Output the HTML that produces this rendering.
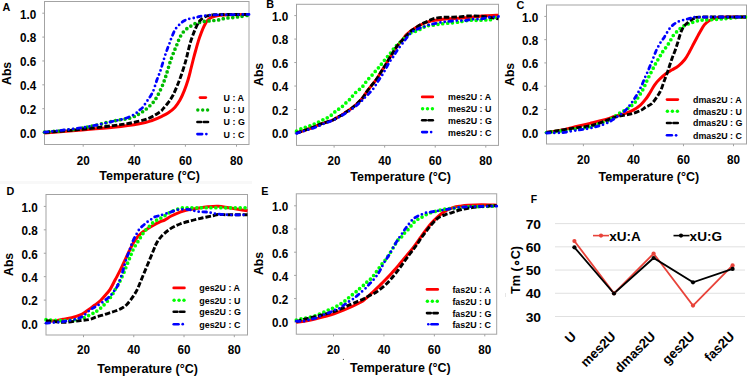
<!DOCTYPE html><html><head><meta charset="utf-8"><title>Melting curves</title>
<style>html,body{margin:0;padding:0;background:#fff;}svg{display:block;font-family:"Liberation Sans", sans-serif;}</style>
</head><body>
<svg width="749" height="379" viewBox="0 0 749 379">
<rect width="749" height="379" fill="#fff"/>
<rect x="0" y="181" width="252" height="3" fill="#f8f8f8"/>
<rect x="44.5" y="1.5" width="204.5" height="143" fill="none" stroke="#a3a3a3" stroke-width="1"/>
<line x1="83.2" y1="144.5" x2="83.2" y2="146.7" stroke="#a3a3a3" stroke-width="1"/>
<text transform="translate(83.2,164.9) scale(1,1.08)" font-size="11.7" font-weight="bold" text-anchor="middle" fill="#000" >20</text>
<line x1="134.3" y1="144.5" x2="134.3" y2="146.7" stroke="#a3a3a3" stroke-width="1"/>
<text transform="translate(134.3,164.9) scale(1,1.08)" font-size="11.7" font-weight="bold" text-anchor="middle" fill="#000" >40</text>
<line x1="185.4" y1="144.5" x2="185.4" y2="146.7" stroke="#a3a3a3" stroke-width="1"/>
<text transform="translate(185.4,164.9) scale(1,1.08)" font-size="11.7" font-weight="bold" text-anchor="middle" fill="#000" >60</text>
<line x1="236.5" y1="144.5" x2="236.5" y2="146.7" stroke="#a3a3a3" stroke-width="1"/>
<text transform="translate(236.5,164.9) scale(1,1.08)" font-size="11.7" font-weight="bold" text-anchor="middle" fill="#000" >80</text>
<line x1="42.3" y1="132.6" x2="44.5" y2="132.6" stroke="#a3a3a3" stroke-width="1"/>
<text transform="translate(36.2,137.9) scale(1,1.08)" font-size="11.7" font-weight="bold" text-anchor="end" fill="#000" >0.0</text>
<line x1="42.3" y1="108.72" x2="44.5" y2="108.72" stroke="#a3a3a3" stroke-width="1"/>
<text transform="translate(36.2,114.02) scale(1,1.08)" font-size="11.7" font-weight="bold" text-anchor="end" fill="#000" >0.2</text>
<line x1="42.3" y1="84.84" x2="44.5" y2="84.84" stroke="#a3a3a3" stroke-width="1"/>
<text transform="translate(36.2,90.14) scale(1,1.08)" font-size="11.7" font-weight="bold" text-anchor="end" fill="#000" >0.4</text>
<line x1="42.3" y1="60.96" x2="44.5" y2="60.96" stroke="#a3a3a3" stroke-width="1"/>
<text transform="translate(36.2,66.26) scale(1,1.08)" font-size="11.7" font-weight="bold" text-anchor="end" fill="#000" >0.6</text>
<line x1="42.3" y1="37.08" x2="44.5" y2="37.08" stroke="#a3a3a3" stroke-width="1"/>
<text transform="translate(36.2,42.38) scale(1,1.08)" font-size="11.7" font-weight="bold" text-anchor="end" fill="#000" >0.8</text>
<line x1="42.3" y1="13.2" x2="44.5" y2="13.2" stroke="#a3a3a3" stroke-width="1"/>
<text transform="translate(36.2,18.5) scale(1,1.08)" font-size="11.7" font-weight="bold" text-anchor="end" fill="#000" >1.0</text>
<text transform="translate(99.3,179.6) scale(1,1.08)" font-size="12.5" font-weight="bold" text-anchor="start" fill="#000" >Temperature (&#176;C)</text>
<text transform="translate(10.9,73.4) rotate(-90) scale(1,1.08)" font-size="12.2" font-weight="bold" text-anchor="middle" fill="#000">Abs</text>
<text transform="translate(2.6,10.6) scale(1.04,1)" font-size="10.4" font-weight="bold" text-anchor="start" fill="#000" >A</text>
<g>
<path d="M44.5,133C50.2,132.55 67.22,131.25 78.7,130.3C90.18,129.35 103.27,128.38 113.4,127.3C123.53,126.22 133.07,124.93 139.5,123.8C145.93,122.67 148.23,121.77 152,120.5C155.77,119.23 159.37,117.5 162.1,116.2C164.83,114.9 166.28,114.17 168.4,112.7C170.52,111.23 172.87,109.52 174.8,107.4C176.73,105.28 178.42,102.8 180,100C181.58,97.2 182.97,93.93 184.3,90.6C185.63,87.27 186.88,83.68 188,80C189.12,76.32 190.08,72.08 191,68.5C191.92,64.92 192.7,61.58 193.5,58.5C194.3,55.42 194.97,52.98 195.8,50C196.63,47.02 197.62,43.4 198.5,40.6C199.38,37.8 200.23,35.48 201.1,33.2C201.97,30.92 202.82,28.8 203.7,26.9C204.58,25 205.42,23.2 206.4,21.8C207.38,20.4 208.37,19.38 209.6,18.5C210.83,17.62 212.07,17.05 213.8,16.5C215.53,15.95 216.97,15.5 220,15.2C223.03,14.9 227.17,14.82 232,14.7C236.83,14.58 246.17,14.53 249,14.5" stroke="#ff0000" stroke-width="3.0" fill="none" stroke-linejoin="round"/>
<path d="M44.5,132.2C50.2,131.63 67.22,130.67 78.7,128.8C90.18,126.93 104.72,122.83 113.4,121C122.08,119.17 126.17,119.2 130.8,117.8C135.43,116.4 138.32,114.33 141.2,112.6C144.08,110.87 145.8,109.5 148.1,107.4C150.4,105.3 152.92,102.97 155,100C157.08,97.03 159.02,92.92 160.6,89.6C162.18,86.28 163.37,83.2 164.5,80.1C165.63,77 166.43,74.1 167.4,71C168.37,67.9 169.23,64.67 170.3,61.5C171.37,58.33 172.85,54.43 173.8,52C174.75,49.57 175.35,48.48 176,46.9C176.65,45.32 177.1,43.98 177.7,42.5C178.3,41.02 178.83,39.55 179.6,38C180.37,36.45 181.23,34.63 182.3,33.2C183.37,31.77 184.72,30.5 186,29.4C187.28,28.3 188.63,27.5 190,26.6C191.37,25.7 192.78,24.65 194.2,24C195.62,23.35 197,23.1 198.5,22.7C200,22.3 201.62,21.88 203.2,21.6C204.78,21.32 206.42,21.17 208,21C209.58,20.83 211.12,20.73 212.7,20.6C214.28,20.47 215.95,20.47 217.5,20.2C219.05,19.93 220.5,19.35 222,19C223.5,18.65 225,18.3 226.5,18.1C228,17.9 229.47,17.95 231,17.8C232.53,17.65 234.13,17.4 235.7,17.2C237.27,17 238.18,16.93 240.4,16.6C242.62,16.27 247.57,15.43 249,15.2" stroke="#00bb00" stroke-width="3.7" fill="none" stroke-linecap="round" stroke-dasharray="0 4.8"/>
<path d="M44.5,132.5C50.2,132.02 67.22,130.75 78.7,129.6C90.18,128.45 104.72,126.7 113.4,125.6C122.08,124.5 125.02,124.17 130.8,123C136.58,121.83 143.23,120.45 148.1,118.6C152.97,116.75 157.48,113.57 160,111.9C162.52,110.23 161.8,110.18 163.2,108.6C164.6,107.02 166.82,104.53 168.4,102.4C169.98,100.27 171.28,98.45 172.7,95.8C174.12,93.15 175.58,89.63 176.9,86.5C178.22,83.37 179.37,80.45 180.6,77C181.83,73.55 183.32,68.97 184.3,65.8C185.28,62.63 185.83,60.55 186.5,58C187.17,55.45 187.62,53.22 188.3,50.5C188.98,47.78 189.78,44.4 190.6,41.7C191.42,39 192.33,36.6 193.2,34.3C194.07,32 194.92,29.83 195.8,27.9C196.68,25.97 197.62,24.1 198.5,22.7C199.38,21.3 200.23,20.38 201.1,19.5C201.97,18.62 202.65,18.02 203.7,17.4C204.75,16.78 205.85,16.22 207.4,15.8C208.95,15.38 210.9,15.1 213,14.9C215.1,14.7 214,14.68 220,14.6C226,14.52 244.17,14.43 249,14.4" stroke="#000000" stroke-width="2.9" fill="none" stroke-dasharray="5.5 2"/>
<path d="M44.5,132.2C47.32,131.88 55.7,130.97 61.4,130.3C67.1,129.63 72.92,129.05 78.7,128.2C84.48,127.35 90.32,126.37 96.1,125.2C101.88,124.03 108.75,122.27 113.4,121.2C118.05,120.13 120.53,119.92 124,118.8C127.47,117.68 131.62,115.97 134.2,114.5C136.78,113.03 138.13,111.12 139.5,110C140.87,108.88 141.27,109.1 142.4,107.8C143.53,106.5 145.05,104.02 146.3,102.2C147.55,100.38 148.73,98.78 149.9,96.9C151.07,95.02 152.13,93.72 153.3,90.9C154.47,88.08 155.77,83.2 156.9,80C158.03,76.8 159.13,74.5 160.1,71.7C161.07,68.9 161.83,66.02 162.7,63.2C163.57,60.38 164.42,57.47 165.3,54.8C166.18,52.13 167.25,49.23 168,47.2C168.75,45.17 169.18,44.27 169.8,42.6C170.42,40.93 170.93,39.13 171.7,37.2C172.47,35.27 173.52,32.68 174.4,31C175.28,29.32 176.03,28.28 177,27.1C177.97,25.92 179.15,24.87 180.2,23.9C181.25,22.93 182.08,22.07 183.3,21.3C184.52,20.53 186.12,19.78 187.5,19.3C188.88,18.82 190.22,18.68 191.6,18.4C192.98,18.12 194.65,17.88 195.8,17.6C196.95,17.32 197.43,16.98 198.5,16.7C199.57,16.42 200.35,16.15 202.2,15.9C204.05,15.65 206.97,15.38 209.6,15.2C212.23,15.02 213.77,14.9 218,14.8C222.23,14.7 229.83,14.67 235,14.6C240.17,14.53 246.67,14.43 249,14.4" stroke="#0000ff" stroke-width="2.8" fill="none" stroke-linecap="round" stroke-dasharray="3.6 4.2 0 4.5 0 4.2"/>
</g>
<line x1="200" y1="97.6" x2="205.8" y2="97.6" stroke="#ff0000" stroke-width="2.7" stroke-linecap="round"/>
<circle cx="197.8" cy="110" r="1.7" fill="#00bb00"/>
<circle cx="202.7" cy="110" r="1.7" fill="#00bb00"/>
<circle cx="207.6" cy="110" r="1.7" fill="#00bb00"/>
<line x1="197.4" y1="122" x2="201.1" y2="122" stroke="#000" stroke-width="2.6" stroke-linecap="round"/>
<line x1="203.7" y1="122" x2="208" y2="122" stroke="#000" stroke-width="2.6" stroke-linecap="round"/>
<line x1="197.4" y1="134.1" x2="202.18" y2="134.1" stroke="#0000ff" stroke-width="2.6" stroke-linecap="round"/>
<circle cx="206.34" cy="134.1" r="1.35" fill="#0000ff"/>
<text transform="translate(223.6,101) scale(1,1.12)" font-size="8.9" font-weight="bold" text-anchor="start" fill="#000" >U : A</text>
<text transform="translate(223.6,113.4) scale(1,1.12)" font-size="8.9" font-weight="bold" text-anchor="start" fill="#000" >U : U</text>
<text transform="translate(223.6,125.4) scale(1,1.12)" font-size="8.9" font-weight="bold" text-anchor="start" fill="#000" >U : G</text>
<text transform="translate(223.6,137.5) scale(1,1.12)" font-size="8.9" font-weight="bold" text-anchor="start" fill="#000" >U : C</text>
<rect x="296.5" y="4.3" width="202" height="141.1" fill="none" stroke="#a3a3a3" stroke-width="1"/>
<line x1="334.1" y1="145.4" x2="334.1" y2="147.6" stroke="#a3a3a3" stroke-width="1"/>
<text transform="translate(334.1,165) scale(1,1.08)" font-size="11.7" font-weight="bold" text-anchor="middle" fill="#000" >20</text>
<line x1="384.67" y1="145.4" x2="384.67" y2="147.6" stroke="#a3a3a3" stroke-width="1"/>
<text transform="translate(384.67,165) scale(1,1.08)" font-size="11.7" font-weight="bold" text-anchor="middle" fill="#000" >40</text>
<line x1="435.23" y1="145.4" x2="435.23" y2="147.6" stroke="#a3a3a3" stroke-width="1"/>
<text transform="translate(435.23,165) scale(1,1.08)" font-size="11.7" font-weight="bold" text-anchor="middle" fill="#000" >60</text>
<line x1="485.8" y1="145.4" x2="485.8" y2="147.6" stroke="#a3a3a3" stroke-width="1"/>
<text transform="translate(485.8,165) scale(1,1.08)" font-size="11.7" font-weight="bold" text-anchor="middle" fill="#000" >80</text>
<line x1="294.3" y1="133" x2="296.5" y2="133" stroke="#a3a3a3" stroke-width="1"/>
<text transform="translate(288.2,138.3) scale(1,1.08)" font-size="11.7" font-weight="bold" text-anchor="end" fill="#000" >0.0</text>
<line x1="294.3" y1="109.52" x2="296.5" y2="109.52" stroke="#a3a3a3" stroke-width="1"/>
<text transform="translate(288.2,114.82) scale(1,1.08)" font-size="11.7" font-weight="bold" text-anchor="end" fill="#000" >0.2</text>
<line x1="294.3" y1="86.04" x2="296.5" y2="86.04" stroke="#a3a3a3" stroke-width="1"/>
<text transform="translate(288.2,91.34) scale(1,1.08)" font-size="11.7" font-weight="bold" text-anchor="end" fill="#000" >0.4</text>
<line x1="294.3" y1="62.56" x2="296.5" y2="62.56" stroke="#a3a3a3" stroke-width="1"/>
<text transform="translate(288.2,67.86) scale(1,1.08)" font-size="11.7" font-weight="bold" text-anchor="end" fill="#000" >0.6</text>
<line x1="294.3" y1="39.08" x2="296.5" y2="39.08" stroke="#a3a3a3" stroke-width="1"/>
<text transform="translate(288.2,44.38) scale(1,1.08)" font-size="11.7" font-weight="bold" text-anchor="end" fill="#000" >0.8</text>
<line x1="294.3" y1="15.6" x2="296.5" y2="15.6" stroke="#a3a3a3" stroke-width="1"/>
<text transform="translate(288.2,20.9) scale(1,1.08)" font-size="11.7" font-weight="bold" text-anchor="end" fill="#000" >1.0</text>
<text transform="translate(350.3,180.8) scale(1,1.08)" font-size="12.5" font-weight="bold" text-anchor="start" fill="#000" >Temperature (&#176;C)</text>
<text transform="translate(263.3,74.4) rotate(-90) scale(1,1.08)" font-size="12.2" font-weight="bold" text-anchor="middle" fill="#000">Abs</text>
<text transform="translate(266.3,8.2) scale(1.04,1)" font-size="10.4" font-weight="bold" text-anchor="start" fill="#000" >B</text>
<g>
<path d="M296.5,133C298,132.5 302.42,131.08 305.5,130C308.58,128.92 312.62,127.43 315,126.5C317.38,125.57 318.22,125.02 319.8,124.4C321.38,123.78 322.92,123.3 324.5,122.8C326.08,122.3 327.72,121.95 329.3,121.4C330.88,120.85 332.55,120.23 334,119.5C335.45,118.77 336.68,117.75 338,117C339.32,116.25 340.73,115.7 341.9,115C343.07,114.3 343.6,113.75 345,112.8C346.4,111.85 348.53,110.6 350.3,109.3C352.07,108 353.85,106.55 355.6,105C357.35,103.45 359.4,101.5 360.8,100C362.2,98.5 362.92,97.5 364,96C365.08,94.5 365.87,92.97 367.3,91C368.73,89.03 371.02,86.22 372.6,84.2C374.18,82.18 375.4,80.93 376.8,78.9C378.2,76.87 379.6,74.23 381,72C382.4,69.77 383.72,67.92 385.2,65.5C386.68,63.08 388.5,59.83 389.9,57.5C391.3,55.17 392.28,53.55 393.6,51.5C394.92,49.45 396.38,47.07 397.8,45.2C399.22,43.33 400.77,41.95 402.1,40.3C403.43,38.65 404.52,36.72 405.8,35.3C407.08,33.88 408.35,32.92 409.8,31.8C411.25,30.68 412.92,29.63 414.5,28.6C416.08,27.57 417.58,26.55 419.3,25.6C421.02,24.65 422.97,23.63 424.8,22.9C426.63,22.17 428.6,21.63 430.3,21.2C432,20.77 432.13,20.72 435,20.3C437.87,19.88 443.43,19.05 447.5,18.7C451.57,18.35 455.32,18.45 459.4,18.2C463.48,17.95 467.63,17.6 472,17.2C476.37,16.8 481.18,16.13 485.6,15.8C490.02,15.47 496.35,15.3 498.5,15.2" stroke="#ff0000" stroke-width="3.0" fill="none" stroke-linejoin="round"/>
<path d="M296.5,131.2C297.47,130.72 300.53,129.05 302.3,128.3C304.07,127.55 305.52,127.23 307.1,126.7C308.68,126.17 310.42,125.65 311.8,125.1C313.18,124.55 314.07,124.02 315.4,123.4C316.73,122.78 318.28,122.13 319.8,121.4C321.32,120.67 322.98,119.73 324.5,119C326.02,118.27 327.45,117.92 328.9,117C330.35,116.08 331.92,114.62 333.2,113.5C334.48,112.38 335.35,111.22 336.6,110.3C337.85,109.38 339.48,108.92 340.7,108C341.92,107.08 342.75,105.9 343.9,104.8C345.05,103.7 346.4,102.53 347.6,101.4C348.8,100.27 350.03,99.23 351.1,98C352.17,96.77 352.8,95.27 354,94C355.2,92.73 356.88,91.63 358.3,90.4C359.72,89.17 361.27,87.95 362.5,86.6C363.73,85.25 364.63,83.67 365.7,82.3C366.77,80.93 367.85,79.58 368.9,78.4C369.95,77.22 370.95,76.35 372,75.2C373.05,74.05 374.05,72.82 375.2,71.5C376.35,70.18 377.72,68.72 378.9,67.3C380.08,65.88 381.08,64.55 382.3,63C383.52,61.45 385.02,59.42 386.2,58C387.38,56.58 388.33,55.82 389.4,54.5C390.47,53.18 391.55,51.45 392.6,50.1C393.65,48.75 394.38,47.78 395.7,46.4C397.02,45.02 398.78,43.45 400.5,41.8C402.22,40.15 404.33,37.97 406,36.5C407.67,35.03 409.02,33.83 410.5,33C411.98,32.17 413.43,32.03 414.9,31.5C416.37,30.97 417.92,30.47 419.3,29.8C420.68,29.13 421.88,28.17 423.2,27.5C424.52,26.83 425.68,26.17 427.2,25.8C428.72,25.43 430.1,25.6 432.3,25.3C434.5,25 437.07,24.42 440.4,24C443.73,23.58 448.7,23.22 452.3,22.8C455.9,22.38 459.22,21.93 462,21.5C464.78,21.07 466.5,20.4 469,20.2C471.5,20 474.17,20.33 477,20.3C479.83,20.27 483.67,20.13 486,20C488.33,19.87 488.92,20.28 491,19.5C493.08,18.72 497.25,16 498.5,15.3" stroke="#00ff00" stroke-width="3.7" fill="none" stroke-linecap="round" stroke-dasharray="0 4.8"/>
<path d="M296.5,133C298,132.5 302.42,131.08 305.5,130C308.58,128.92 312.62,127.43 315,126.5C317.38,125.57 318.22,125.02 319.8,124.4C321.38,123.78 322.92,123.3 324.5,122.8C326.08,122.3 327.72,121.95 329.3,121.4C330.88,120.85 332.55,120.23 334,119.5C335.45,118.77 336.68,117.75 338,117C339.32,116.25 340.73,115.7 341.9,115C343.07,114.3 343.6,113.75 345,112.8C346.4,111.85 348.53,110.6 350.3,109.3C352.07,108 353.85,106.55 355.6,105C357.35,103.45 359.4,101.5 360.8,100C362.2,98.5 362.92,97.5 364,96C365.08,94.5 365.87,92.97 367.3,91C368.73,89.03 371.02,86.22 372.6,84.2C374.18,82.18 375.4,80.93 376.8,78.9C378.2,76.87 379.6,74.23 381,72C382.4,69.77 383.72,67.92 385.2,65.5C386.68,63.08 388.5,59.83 389.9,57.5C391.3,55.17 392.28,53.55 393.6,51.5C394.92,49.45 396.38,47.03 397.8,45.2C399.22,43.37 400.68,42.07 402.1,40.5C403.52,38.93 404.9,37.3 406.3,35.8C407.7,34.3 409.22,32.65 410.5,31.5C411.78,30.35 412.75,29.78 414,28.9C415.25,28.02 416.6,27.1 418,26.2C419.4,25.3 421,24.22 422.4,23.5C423.8,22.78 424.95,22.53 426.4,21.9C427.85,21.27 429.78,20.27 431.1,19.7C432.42,19.13 432.55,18.88 434.3,18.5C436.05,18.12 438.98,17.62 441.6,17.4C444.22,17.18 447.02,17.28 450,17.2C452.98,17.12 456.6,17.1 459.5,16.9C462.4,16.7 464.77,16.17 467.4,16C470.03,15.83 472.67,15.83 475.3,15.9C477.93,15.97 480.57,16.12 483.2,16.4C485.83,16.68 488.55,17.2 491.1,17.6C493.65,18 497.27,18.6 498.5,18.8" stroke="#000000" stroke-width="2.9" fill="none" stroke-dasharray="5.5 2"/>
<path d="M296.5,133.3C299.58,132.33 310.33,129.13 315,127.5C319.67,125.87 321.6,124.67 324.5,123.5C327.4,122.33 330.15,121.45 332.4,120.5C334.65,119.55 336.15,118.8 338,117.8C339.85,116.8 341.45,115.75 343.5,114.5C345.55,113.25 348.28,111.68 350.3,110.3C352.32,108.92 353.85,107.62 355.6,106.2C357.35,104.78 359.38,103.1 360.8,101.8C362.22,100.5 362.85,99.67 364.1,98.4C365.35,97.13 366.72,95.87 368.3,94.2C369.88,92.53 372.02,90.52 373.6,88.4C375.18,86.28 376.38,83.7 377.8,81.5C379.22,79.3 380.78,77.28 382.1,75.2C383.42,73.12 384.48,71.17 385.7,69C386.92,66.83 388.17,64.2 389.4,62.2C390.63,60.2 392.05,58.58 393.1,57C394.15,55.42 394.73,54.2 395.7,52.7C396.67,51.2 397.67,49.67 398.9,48C400.13,46.33 401.82,44.37 403.1,42.7C404.38,41.03 405.48,39.45 406.6,38C407.72,36.55 408.62,35.17 409.8,34C410.98,32.83 412.52,31.77 413.7,31C414.88,30.23 415.58,30 416.9,29.4C418.22,28.8 420.15,27.93 421.6,27.4C423.05,26.87 424.28,26.67 425.6,26.2C426.92,25.73 428.18,24.98 429.5,24.6C430.82,24.22 431.48,24.3 433.5,23.9C435.52,23.5 439.27,22.58 441.6,22.2C443.93,21.82 444.93,21.87 447.5,21.6C450.07,21.33 453.92,20.78 457,20.6C460.08,20.42 463.33,20.73 466,20.5C468.67,20.27 470.4,19.45 473,19.2C475.6,18.95 478.83,19.33 481.6,19C484.37,18.67 486.78,17.62 489.6,17.2C492.42,16.78 497.02,16.62 498.5,16.5" stroke="#0000ff" stroke-width="2.8" fill="none" stroke-linecap="round" stroke-dasharray="3.6 4.2 0 4.5 0 4.2"/>
</g>
<line x1="422.2" y1="96.9" x2="432.8" y2="96.9" stroke="#ff0000" stroke-width="2.7" stroke-linecap="round"/>
<circle cx="422.6" cy="108.7" r="1.7" fill="#00ff00"/>
<circle cx="427.5" cy="108.7" r="1.7" fill="#00ff00"/>
<circle cx="432.4" cy="108.7" r="1.7" fill="#00ff00"/>
<line x1="422.2" y1="120.2" x2="425.9" y2="120.2" stroke="#000" stroke-width="2.6" stroke-linecap="round"/>
<line x1="428.5" y1="120.2" x2="432.8" y2="120.2" stroke="#000" stroke-width="2.6" stroke-linecap="round"/>
<line x1="422.2" y1="132.1" x2="426.98" y2="132.1" stroke="#0000ff" stroke-width="2.6" stroke-linecap="round"/>
<circle cx="431.14" cy="132.1" r="1.35" fill="#0000ff"/>
<text transform="translate(448,100.3) scale(1,1.12)" font-size="8.9" font-weight="bold" text-anchor="start" fill="#000" >mes2U : A</text>
<text transform="translate(448,112.1) scale(1,1.12)" font-size="8.9" font-weight="bold" text-anchor="start" fill="#000" >mes2U : U</text>
<text transform="translate(448,123.6) scale(1,1.12)" font-size="8.9" font-weight="bold" text-anchor="start" fill="#000" >mes2U : G</text>
<text transform="translate(448,135.5) scale(1,1.12)" font-size="8.9" font-weight="bold" text-anchor="start" fill="#000" >mes2U : C</text>
<rect x="546.5" y="5" width="200" height="139" fill="none" stroke="#a3a3a3" stroke-width="1"/>
<line x1="583.4" y1="144" x2="583.4" y2="146.2" stroke="#a3a3a3" stroke-width="1"/>
<text transform="translate(583.4,164.4) scale(1,1.08)" font-size="11.7" font-weight="bold" text-anchor="middle" fill="#000" >20</text>
<line x1="633.43" y1="144" x2="633.43" y2="146.2" stroke="#a3a3a3" stroke-width="1"/>
<text transform="translate(633.43,164.4) scale(1,1.08)" font-size="11.7" font-weight="bold" text-anchor="middle" fill="#000" >40</text>
<line x1="683.47" y1="144" x2="683.47" y2="146.2" stroke="#a3a3a3" stroke-width="1"/>
<text transform="translate(683.47,164.4) scale(1,1.08)" font-size="11.7" font-weight="bold" text-anchor="middle" fill="#000" >60</text>
<line x1="733.5" y1="144" x2="733.5" y2="146.2" stroke="#a3a3a3" stroke-width="1"/>
<text transform="translate(733.5,164.4) scale(1,1.08)" font-size="11.7" font-weight="bold" text-anchor="middle" fill="#000" >80</text>
<line x1="544.3" y1="132.7" x2="546.5" y2="132.7" stroke="#a3a3a3" stroke-width="1"/>
<text transform="translate(538.3,138) scale(1,1.08)" font-size="11.7" font-weight="bold" text-anchor="end" fill="#000" >0.0</text>
<line x1="544.3" y1="109.44" x2="546.5" y2="109.44" stroke="#a3a3a3" stroke-width="1"/>
<text transform="translate(538.3,114.74) scale(1,1.08)" font-size="11.7" font-weight="bold" text-anchor="end" fill="#000" >0.2</text>
<line x1="544.3" y1="86.18" x2="546.5" y2="86.18" stroke="#a3a3a3" stroke-width="1"/>
<text transform="translate(538.3,91.48) scale(1,1.08)" font-size="11.7" font-weight="bold" text-anchor="end" fill="#000" >0.4</text>
<line x1="544.3" y1="62.92" x2="546.5" y2="62.92" stroke="#a3a3a3" stroke-width="1"/>
<text transform="translate(538.3,68.22) scale(1,1.08)" font-size="11.7" font-weight="bold" text-anchor="end" fill="#000" >0.6</text>
<line x1="544.3" y1="39.66" x2="546.5" y2="39.66" stroke="#a3a3a3" stroke-width="1"/>
<text transform="translate(538.3,44.96) scale(1,1.08)" font-size="11.7" font-weight="bold" text-anchor="end" fill="#000" >0.8</text>
<line x1="544.3" y1="16.4" x2="546.5" y2="16.4" stroke="#a3a3a3" stroke-width="1"/>
<text transform="translate(538.3,21.7) scale(1,1.08)" font-size="11.7" font-weight="bold" text-anchor="end" fill="#000" >1.0</text>
<text transform="translate(598.6,181.3) scale(1,1.08)" font-size="12.5" font-weight="bold" text-anchor="start" fill="#000" >Temperature (&#176;C)</text>
<text transform="translate(513.7,74.4) rotate(-90) scale(1,1.08)" font-size="12.2" font-weight="bold" text-anchor="middle" fill="#000">Abs</text>
<text transform="translate(516.5,9.2) scale(1.04,1)" font-size="10.4" font-weight="bold" text-anchor="start" fill="#000" >C</text>
<g>
<path d="M546.5,132.5C549.05,132.08 556.62,131.05 561.8,130C566.98,128.95 572.9,127.3 577.6,126.2C582.3,125.1 585.82,124.38 590,123.4C594.18,122.42 598.48,121.48 602.7,120.3C606.92,119.12 611.62,117.43 615.3,116.3C618.98,115.17 621.9,114.48 624.8,113.5C627.7,112.52 630.05,111.85 632.7,110.4C635.35,108.95 638.45,106.78 640.7,104.8C642.95,102.82 644.65,100.52 646.2,98.5C647.75,96.48 648.58,94.98 650,92.7C651.42,90.42 653.12,87.03 654.7,84.8C656.28,82.57 657.65,81.15 659.5,79.3C661.35,77.45 663.68,75.28 665.8,73.7C667.92,72.12 670.08,71.12 672.2,69.8C674.32,68.48 676.4,67.52 678.5,65.8C680.6,64.08 682.95,61.87 684.8,59.5C686.65,57.13 688.1,54.27 689.6,51.6C691.1,48.93 692.57,45.85 693.8,43.5C695.03,41.15 695.97,39.42 697,37.5C698.03,35.58 698.78,34.1 700,32C701.22,29.9 702.73,26.82 704.3,24.9C705.87,22.98 707.12,21.73 709.4,20.5C711.68,19.27 714.57,18.1 718,17.5C721.43,16.9 725.25,16.98 730,16.9C734.75,16.82 743.75,16.98 746.5,17" stroke="#ff0000" stroke-width="3.0" fill="none" stroke-linejoin="round"/>
<path d="M546.5,132.5C550.42,132.03 562.75,130.68 570,129.7C577.25,128.72 585.08,127.65 590,126.6C594.92,125.55 596.33,124.45 599.5,123.4C602.67,122.35 606.55,121.4 609,120.3C611.45,119.2 612.55,117.92 614.2,116.8C615.85,115.68 617.35,114.57 618.9,113.6C620.45,112.63 622.07,111.83 623.5,111C624.93,110.17 626.2,109.47 627.5,108.6C628.8,107.73 630.03,106.85 631.3,105.8C632.57,104.75 634.02,103.62 635.1,102.3C636.18,100.98 636.88,99.37 637.8,97.9C638.72,96.43 639.7,94.98 640.6,93.5C641.5,92.02 642.42,90.5 643.2,89C643.98,87.5 644.62,86.02 645.3,84.5C645.98,82.98 646.6,81.42 647.3,79.9C648,78.38 648.77,76.85 649.5,75.4C650.23,73.95 650.92,72.72 651.7,71.2C652.48,69.68 653.4,67.83 654.2,66.3C655,64.77 655.65,63.47 656.5,62C657.35,60.53 658.47,58.92 659.3,57.5C660.13,56.08 660.8,54.65 661.5,53.5C662.2,52.35 662.63,51.8 663.5,50.6C664.37,49.4 665.63,47.82 666.7,46.3C667.77,44.78 668.82,43.28 669.9,41.5C670.98,39.72 671.85,37.42 673.2,35.6C674.55,33.78 676.42,32.1 678,30.6C679.58,29.1 681.12,27.67 682.7,26.6C684.28,25.53 685.92,24.88 687.5,24.2C689.08,23.52 690.35,23.12 692.2,22.5C694.05,21.88 696.58,20.92 698.6,20.5C700.62,20.08 700.5,20.25 704.3,20C708.1,19.75 715.68,19.45 721.4,19C727.12,18.55 734.42,17.63 738.6,17.3C742.78,16.97 745.18,17.05 746.5,17" stroke="#00ff00" stroke-width="3.7" fill="none" stroke-linecap="round" stroke-dasharray="0 4.8"/>
<path d="M546.5,132.5C550.42,131.87 562.75,129.82 570,128.7C577.25,127.58 584.55,126.93 590,125.8C595.45,124.67 598.48,123.35 602.7,121.9C606.92,120.45 611.62,118.23 615.3,117.1C618.98,115.97 621.9,115.7 624.8,115.1C627.7,114.5 630.05,114.28 632.7,113.5C635.35,112.72 638.57,111.43 640.7,110.4C642.83,109.37 643.68,108.4 645.5,107.3C647.32,106.2 649.67,105.57 651.6,103.8C653.53,102.03 655.52,99.07 657.1,96.7C658.68,94.33 659.92,92.23 661.1,89.6C662.28,86.97 663.18,83.67 664.2,80.9C665.22,78.13 666.27,75.65 667.2,73C668.13,70.35 668.97,67.52 669.8,65C670.63,62.48 671.28,60.4 672.2,57.9C673.12,55.4 674.33,52.7 675.3,50C676.27,47.3 677.15,44.42 678,41.7C678.85,38.98 679.62,35.95 680.4,33.7C681.18,31.45 681.78,29.78 682.7,28.2C683.62,26.62 684.57,25.52 685.9,24.2C687.23,22.88 689.12,21.35 690.7,20.3C692.28,19.25 693.85,18.43 695.4,17.9C696.95,17.37 691.48,17.25 700,17.1C708.52,16.95 738.75,17.02 746.5,17" stroke="#000000" stroke-width="2.9" fill="none" stroke-dasharray="5.5 2"/>
<path d="M546.5,133C549.05,132.93 556.62,133.07 561.8,132.6C566.98,132.13 572.9,130.93 577.6,130.2C582.3,129.47 586.35,128.93 590,128.2C593.65,127.47 596.85,126.58 599.5,125.8C602.15,125.02 604.07,124.28 605.9,123.5C607.73,122.72 608.95,122 610.5,121.1C612.05,120.2 613.65,119.13 615.2,118.1C616.75,117.07 618.42,115.88 619.8,114.9C621.18,113.92 622.27,113.27 623.5,112.2C624.73,111.13 626.05,109.78 627.2,108.5C628.35,107.22 629.33,105.93 630.4,104.5C631.47,103.07 632.53,101.48 633.6,99.9C634.67,98.32 635.82,96.65 636.8,95C637.78,93.35 638.55,91.9 639.5,90C640.45,88.1 641.55,85.77 642.5,83.6C643.45,81.43 644.4,78.85 645.2,77C646,75.15 646.48,74.35 647.3,72.5C648.12,70.65 649.2,68.07 650.1,65.9C651,63.73 651.75,61.9 652.7,59.5C653.65,57.1 654.7,53.98 655.8,51.5C656.9,49.02 658.33,46.37 659.3,44.6C660.27,42.83 660.73,42.18 661.6,40.9C662.47,39.62 663.22,38.88 664.5,36.9C665.78,34.92 667.72,31.12 669.3,29C670.88,26.88 672.28,25.52 674,24.2C675.72,22.88 677.62,21.88 679.6,21.1C681.58,20.32 683.8,20.03 685.9,19.5C688,18.97 690.08,18.3 692.2,17.9C694.32,17.5 689.55,17.25 698.6,17.1C707.65,16.95 738.52,17.02 746.5,17" stroke="#0000ff" stroke-width="2.8" fill="none" stroke-linecap="round" stroke-dasharray="3.6 4.2 0 4.5 0 4.2"/>
</g>
<line x1="667" y1="99.6" x2="677.8" y2="99.6" stroke="#ff0000" stroke-width="2.7" stroke-linecap="round"/>
<circle cx="667.4" cy="111.2" r="1.7" fill="#00ff00"/>
<circle cx="672.4" cy="111.2" r="1.7" fill="#00ff00"/>
<circle cx="677.4" cy="111.2" r="1.7" fill="#00ff00"/>
<line x1="667" y1="123" x2="670.8" y2="123" stroke="#000" stroke-width="2.6" stroke-linecap="round"/>
<line x1="673.4" y1="123" x2="677.8" y2="123" stroke="#000" stroke-width="2.6" stroke-linecap="round"/>
<line x1="667" y1="135.3" x2="671.87" y2="135.3" stroke="#0000ff" stroke-width="2.6" stroke-linecap="round"/>
<circle cx="676.1" cy="135.3" r="1.35" fill="#0000ff"/>
<text transform="translate(693,103) scale(1,1.12)" font-size="8.9" font-weight="bold" text-anchor="start" fill="#000" >dmas2U : A</text>
<text transform="translate(693,114.6) scale(1,1.12)" font-size="8.9" font-weight="bold" text-anchor="start" fill="#000" >dmas2U : U</text>
<text transform="translate(693,126.4) scale(1,1.12)" font-size="8.9" font-weight="bold" text-anchor="start" fill="#000" >dmas2U : G</text>
<text transform="translate(693,138.7) scale(1,1.12)" font-size="8.9" font-weight="bold" text-anchor="start" fill="#000" >dmas2U : C</text>
<rect x="46" y="194.5" width="201.5" height="140.5" fill="none" stroke="#a3a3a3" stroke-width="1"/>
<line x1="83.5" y1="335" x2="83.5" y2="337.2" stroke="#a3a3a3" stroke-width="1"/>
<text transform="translate(83.5,354.3) scale(1,1.08)" font-size="11.7" font-weight="bold" text-anchor="middle" fill="#000" >20</text>
<line x1="133.77" y1="335" x2="133.77" y2="337.2" stroke="#a3a3a3" stroke-width="1"/>
<text transform="translate(133.77,354.3) scale(1,1.08)" font-size="11.7" font-weight="bold" text-anchor="middle" fill="#000" >40</text>
<line x1="184.03" y1="335" x2="184.03" y2="337.2" stroke="#a3a3a3" stroke-width="1"/>
<text transform="translate(184.03,354.3) scale(1,1.08)" font-size="11.7" font-weight="bold" text-anchor="middle" fill="#000" >60</text>
<line x1="234.3" y1="335" x2="234.3" y2="337.2" stroke="#a3a3a3" stroke-width="1"/>
<text transform="translate(234.3,354.3) scale(1,1.08)" font-size="11.7" font-weight="bold" text-anchor="middle" fill="#000" >80</text>
<line x1="43.8" y1="323.5" x2="46" y2="323.5" stroke="#a3a3a3" stroke-width="1"/>
<text transform="translate(37.8,328.8) scale(1,1.08)" font-size="11.7" font-weight="bold" text-anchor="end" fill="#000" >0.0</text>
<line x1="43.8" y1="300.08" x2="46" y2="300.08" stroke="#a3a3a3" stroke-width="1"/>
<text transform="translate(37.8,305.38) scale(1,1.08)" font-size="11.7" font-weight="bold" text-anchor="end" fill="#000" >0.2</text>
<line x1="43.8" y1="276.66" x2="46" y2="276.66" stroke="#a3a3a3" stroke-width="1"/>
<text transform="translate(37.8,281.96) scale(1,1.08)" font-size="11.7" font-weight="bold" text-anchor="end" fill="#000" >0.4</text>
<line x1="43.8" y1="253.24" x2="46" y2="253.24" stroke="#a3a3a3" stroke-width="1"/>
<text transform="translate(37.8,258.54) scale(1,1.08)" font-size="11.7" font-weight="bold" text-anchor="end" fill="#000" >0.6</text>
<line x1="43.8" y1="229.82" x2="46" y2="229.82" stroke="#a3a3a3" stroke-width="1"/>
<text transform="translate(37.8,235.12) scale(1,1.08)" font-size="11.7" font-weight="bold" text-anchor="end" fill="#000" >0.8</text>
<line x1="43.8" y1="206.4" x2="46" y2="206.4" stroke="#a3a3a3" stroke-width="1"/>
<text transform="translate(37.8,211.7) scale(1,1.08)" font-size="11.7" font-weight="bold" text-anchor="end" fill="#000" >1.0</text>
<text transform="translate(97.3,372.8) scale(1,1.08)" font-size="12.5" font-weight="bold" text-anchor="start" fill="#000" >Temperature (&#176;C)</text>
<text transform="translate(13,264.4) rotate(-90) scale(1,1.08)" font-size="12.2" font-weight="bold" text-anchor="middle" fill="#000">Abs</text>
<text transform="translate(6.5,195) scale(1.04,1)" font-size="10.4" font-weight="bold" text-anchor="start" fill="#000" >D</text>
<g>
<path d="M46,321.4C47.43,321.3 51.75,321.15 54.6,320.8C57.45,320.45 60.25,319.83 63.1,319.3C65.95,318.77 68.83,318.35 71.7,317.6C74.57,316.85 78.08,315.7 80.3,314.8C82.52,313.9 83.38,313.23 85,312.2C86.62,311.17 88.28,309.83 90,308.6C91.72,307.37 93.53,306.15 95.3,304.8C97.07,303.45 98.85,302.18 100.6,300.5C102.35,298.82 104.22,296.55 105.8,294.7C107.38,292.85 108.53,291.88 110.1,289.4C111.67,286.92 113.47,283.08 115.2,279.8C116.93,276.52 118.85,273.03 120.5,269.7C122.15,266.37 123.6,263 125.1,259.8C126.6,256.6 128.13,253.3 129.5,250.5C130.87,247.7 132.07,245.13 133.3,243C134.53,240.87 135.52,239.38 136.9,237.7C138.28,236.02 139.82,234.38 141.6,232.9C143.38,231.42 145.62,230.08 147.6,228.8C149.58,227.52 151.53,226.3 153.5,225.2C155.47,224.1 157.48,223.1 159.4,222.2C161.32,221.3 163.02,220.83 165,219.8C166.98,218.77 168.68,217.33 171.3,216C173.92,214.67 178.25,212.77 180.7,211.8C183.15,210.83 183.33,210.77 186,210.2C188.67,209.63 193.13,208.97 196.7,208.4C200.27,207.83 203.83,207.17 207.4,206.8C210.97,206.43 214.53,206.03 218.1,206.2C221.67,206.37 225.25,207.27 228.8,207.8C232.35,208.33 236.28,208.9 239.4,209.4C242.52,209.9 246.15,210.57 247.5,210.8" stroke="#ff0000" stroke-width="3.0" fill="none" stroke-linejoin="round"/>
<path d="M46,319.7C48.85,319.85 57.38,320.73 63.1,320.6C68.82,320.47 75.55,320 80.3,318.9C85.05,317.8 88.93,315.25 91.6,314C94.27,312.75 94.72,312.45 96.3,311.4C97.88,310.35 99.6,309.02 101.1,307.7C102.6,306.38 103.9,305 105.3,303.5C106.7,302 108.27,300.28 109.5,298.7C110.73,297.12 111.73,295.58 112.7,294C113.67,292.42 114.52,290.52 115.3,289.2C116.08,287.88 116.65,287.38 117.4,286.1C118.15,284.82 118.85,283.47 119.8,281.5C120.75,279.53 122.08,276.63 123.1,274.3C124.12,271.97 125,269.72 125.9,267.5C126.8,265.28 127.73,262.92 128.5,261C129.27,259.08 129.88,257.53 130.5,256C131.12,254.47 131.62,253.17 132.2,251.8C132.78,250.43 133.22,249.23 134,247.8C134.78,246.37 136.02,244.6 136.9,243.2C137.78,241.8 138.42,240.82 139.3,239.4C140.18,237.98 141.22,236.18 142.2,234.7C143.18,233.22 144.02,231.88 145.2,230.5C146.38,229.12 147.92,227.78 149.3,226.4C150.68,225.02 152,223.38 153.5,222.2C155,221.02 156.72,220.18 158.3,219.3C159.88,218.42 161.38,217.87 163,216.9C164.62,215.93 166.5,214.43 168,213.5C169.5,212.57 169.88,212.17 172,211.3C174.12,210.43 177.47,208.88 180.7,208.3C183.93,207.72 180.27,207.88 191.4,207.8C202.53,207.72 238.15,207.8 247.5,207.8" stroke="#00ff00" stroke-width="3.7" fill="none" stroke-linecap="round" stroke-dasharray="0 4.8"/>
<path d="M46,320.6C48.85,320.88 57.38,322.3 63.1,322.3C68.82,322.3 75.82,321.1 80.3,320.6C84.78,320.1 87.33,319.92 90,319.3C92.67,318.68 94.18,317.58 96.3,316.9C98.42,316.22 100.58,315.83 102.7,315.2C104.82,314.57 106.9,313.8 109,313.1C111.1,312.4 113.18,311.8 115.3,311C117.42,310.2 119.77,309.4 121.7,308.3C123.63,307.2 125.08,306.25 126.9,304.4C128.72,302.55 130.88,299.67 132.6,297.2C134.32,294.73 135.88,292.18 137.2,289.6C138.52,287.02 139.4,284.35 140.5,281.7C141.6,279.05 142.7,276.35 143.8,273.7C144.9,271.05 146,268.43 147.1,265.8C148.2,263.17 149.32,260.53 150.4,257.9C151.48,255.27 152.68,252.23 153.6,250C154.52,247.77 155.12,246.13 155.9,244.5C156.68,242.87 157.42,241.52 158.3,240.2C159.18,238.88 160.22,237.7 161.2,236.6C162.18,235.5 163.07,234.62 164.2,233.6C165.33,232.58 166.57,231.55 168,230.5C169.43,229.45 170.8,228.38 172.8,227.3C174.8,226.22 176.9,225.12 180,224C183.1,222.88 187.72,221.6 191.4,220.6C195.08,219.6 198.55,218.8 202.1,218C205.65,217.2 210.03,216.38 212.7,215.8C215.37,215.22 215.42,214.67 218.1,214.5C220.78,214.33 223.9,214.75 228.8,214.8C233.7,214.85 244.38,214.8 247.5,214.8" stroke="#000000" stroke-width="2.9" fill="none" stroke-dasharray="5.5 2"/>
<path d="M46,323.1C48.85,322.85 57.38,322.52 63.1,321.6C68.82,320.68 75.82,319.53 80.3,317.6C84.78,315.67 87.5,311.8 90,310C92.5,308.2 93.53,307.87 95.3,306.8C97.07,305.73 98.67,304.93 100.6,303.6C102.53,302.27 105.15,300.23 106.9,298.8C108.65,297.37 109.87,296.33 111.1,295C112.33,293.67 113.25,292.28 114.3,290.8C115.35,289.32 116.53,287.73 117.4,286.1C118.27,284.47 118.77,282.93 119.5,281C120.23,279.07 121.08,276.72 121.8,274.5C122.52,272.28 123.15,269.93 123.8,267.7C124.45,265.47 124.93,263.52 125.7,261.1C126.47,258.68 127.6,255.47 128.4,253.2C129.2,250.93 129.88,249.2 130.5,247.5C131.12,245.8 131.43,244.63 132.1,243C132.77,241.37 133.7,239.28 134.5,237.7C135.3,236.12 136.1,234.9 136.9,233.5C137.7,232.1 138.32,230.58 139.3,229.3C140.28,228.02 141.52,226.98 142.8,225.8C144.08,224.62 145.72,223.2 147,222.2C148.28,221.2 149.22,220.68 150.5,219.8C151.78,218.92 153.22,217.58 154.7,216.9C156.18,216.22 158.02,216.1 159.4,215.7C160.78,215.3 161.23,215.07 163,214.5C164.77,213.93 167.42,213.12 170,212.3C172.58,211.48 175.3,210.05 178.5,209.6C181.7,209.15 185.98,209.27 189.2,209.6C192.42,209.93 194.77,211.18 197.8,211.6C200.83,212.02 204.38,211.75 207.4,212.1C210.42,212.45 212.33,213.25 215.9,213.7C219.47,214.15 223.53,214.62 228.8,214.8C234.07,214.98 244.38,214.8 247.5,214.8" stroke="#0000ff" stroke-width="2.8" fill="none" stroke-linecap="round" stroke-dasharray="3.6 4.2 0 4.5 0 4.2"/>
</g>
<line x1="173.7" y1="287.9" x2="184.4" y2="287.9" stroke="#ff0000" stroke-width="2.7" stroke-linecap="round"/>
<circle cx="174.1" cy="300.2" r="1.7" fill="#00ff00"/>
<circle cx="179.05" cy="300.2" r="1.7" fill="#00ff00"/>
<circle cx="184" cy="300.2" r="1.7" fill="#00ff00"/>
<line x1="173.7" y1="311.8" x2="177.45" y2="311.8" stroke="#000" stroke-width="2.6" stroke-linecap="round"/>
<line x1="180.05" y1="311.8" x2="184.4" y2="311.8" stroke="#000" stroke-width="2.6" stroke-linecap="round"/>
<line x1="173.7" y1="324.2" x2="178.53" y2="324.2" stroke="#0000ff" stroke-width="2.6" stroke-linecap="round"/>
<circle cx="182.72" cy="324.2" r="1.35" fill="#0000ff"/>
<text transform="translate(199.3,291.3) scale(1,1.12)" font-size="8.9" font-weight="bold" text-anchor="start" fill="#000" >ges2U : A</text>
<text transform="translate(199.3,303.6) scale(1,1.12)" font-size="8.9" font-weight="bold" text-anchor="start" fill="#000" >ges2U : U</text>
<text transform="translate(199.3,315.2) scale(1,1.12)" font-size="8.9" font-weight="bold" text-anchor="start" fill="#000" >ges2U : G</text>
<text transform="translate(199.3,327.6) scale(1,1.12)" font-size="8.9" font-weight="bold" text-anchor="start" fill="#000" >ges2U : C</text>
<rect x="296.3" y="193.8" width="200.4" height="140.4" fill="none" stroke="#a3a3a3" stroke-width="1"/>
<line x1="333.5" y1="334.2" x2="333.5" y2="336.4" stroke="#a3a3a3" stroke-width="1"/>
<text transform="translate(333.5,353.5) scale(1,1.08)" font-size="11.7" font-weight="bold" text-anchor="middle" fill="#000" >20</text>
<line x1="383.93" y1="334.2" x2="383.93" y2="336.4" stroke="#a3a3a3" stroke-width="1"/>
<text transform="translate(383.93,353.5) scale(1,1.08)" font-size="11.7" font-weight="bold" text-anchor="middle" fill="#000" >40</text>
<line x1="434.37" y1="334.2" x2="434.37" y2="336.4" stroke="#a3a3a3" stroke-width="1"/>
<text transform="translate(434.37,353.5) scale(1,1.08)" font-size="11.7" font-weight="bold" text-anchor="middle" fill="#000" >60</text>
<line x1="484.8" y1="334.2" x2="484.8" y2="336.4" stroke="#a3a3a3" stroke-width="1"/>
<text transform="translate(484.8,353.5) scale(1,1.08)" font-size="11.7" font-weight="bold" text-anchor="middle" fill="#000" >80</text>
<line x1="294.1" y1="321.8" x2="296.3" y2="321.8" stroke="#a3a3a3" stroke-width="1"/>
<text transform="translate(288.3,327.1) scale(1,1.08)" font-size="11.7" font-weight="bold" text-anchor="end" fill="#000" >0.0</text>
<line x1="294.1" y1="298.6" x2="296.3" y2="298.6" stroke="#a3a3a3" stroke-width="1"/>
<text transform="translate(288.3,303.9) scale(1,1.08)" font-size="11.7" font-weight="bold" text-anchor="end" fill="#000" >0.2</text>
<line x1="294.1" y1="275.4" x2="296.3" y2="275.4" stroke="#a3a3a3" stroke-width="1"/>
<text transform="translate(288.3,280.7) scale(1,1.08)" font-size="11.7" font-weight="bold" text-anchor="end" fill="#000" >0.4</text>
<line x1="294.1" y1="252.2" x2="296.3" y2="252.2" stroke="#a3a3a3" stroke-width="1"/>
<text transform="translate(288.3,257.5) scale(1,1.08)" font-size="11.7" font-weight="bold" text-anchor="end" fill="#000" >0.6</text>
<line x1="294.1" y1="229" x2="296.3" y2="229" stroke="#a3a3a3" stroke-width="1"/>
<text transform="translate(288.3,234.3) scale(1,1.08)" font-size="11.7" font-weight="bold" text-anchor="end" fill="#000" >0.8</text>
<line x1="294.1" y1="205.8" x2="296.3" y2="205.8" stroke="#a3a3a3" stroke-width="1"/>
<text transform="translate(288.3,211.1) scale(1,1.08)" font-size="11.7" font-weight="bold" text-anchor="end" fill="#000" >1.0</text>
<text transform="translate(350.1,371.6) scale(1,1.08)" font-size="12.5" font-weight="bold" text-anchor="start" fill="#000" >Temperature (&#176;C)</text>
<text transform="translate(263.3,263.5) rotate(-90) scale(1,1.08)" font-size="12.2" font-weight="bold" text-anchor="middle" fill="#000">Abs</text>
<text transform="translate(261.3,194.8) scale(1.04,1)" font-size="10.4" font-weight="bold" text-anchor="start" fill="#000" >E</text>
<g>
<path d="M296.3,322.4C297.83,322.15 302.38,321.47 305.5,320.9C308.62,320.33 311.83,319.72 315,319C318.17,318.28 321.33,317.47 324.5,316.6C327.67,315.73 330.83,314.87 334,313.8C337.17,312.73 340.3,311.5 343.5,310.2C346.7,308.9 350.27,307.37 353.2,306C356.13,304.63 359.13,303.13 361.1,302C363.07,300.87 363.47,300.47 365,299.2C366.53,297.93 368.53,296.03 370.3,294.4C372.07,292.77 373.85,291.07 375.6,289.4C377.35,287.73 379.05,286.13 380.8,284.4C382.55,282.67 384.33,280.83 386.1,279C387.87,277.17 389.92,275 391.4,273.4C392.88,271.8 393.78,270.78 395,269.4C396.22,268.02 397.43,266.6 398.7,265.1C399.97,263.6 401.28,261.98 402.6,260.4C403.92,258.82 405.32,257.12 406.6,255.6C407.88,254.08 409.1,252.75 410.3,251.3C411.5,249.85 412.6,248.48 413.8,246.9C415,245.32 416.37,243.38 417.5,241.8C418.63,240.22 419.22,239.33 420.6,237.4C421.98,235.47 424.05,232.5 425.8,230.2C427.55,227.9 429.33,225.62 431.1,223.6C432.87,221.58 434.63,219.78 436.4,218.1C438.17,216.42 439.95,214.82 441.7,213.5C443.45,212.18 444.93,211.2 446.9,210.2C448.87,209.2 451.3,208.17 453.5,207.5C455.7,206.83 457.68,206.57 460.1,206.2C462.52,205.83 464.42,205.53 468,205.3C471.58,205.07 476.82,204.82 481.6,204.8C486.38,204.78 494.18,205.13 496.7,205.2" stroke="#ff0000" stroke-width="3.0" fill="none" stroke-linejoin="round"/>
<path d="M296.3,320.1C297.28,319.85 300.25,319.02 302.2,318.6C304.15,318.18 306.1,317.97 308,317.6C309.9,317.23 311.88,316.93 313.6,316.4C315.32,315.87 316.8,315 318.3,314.4C319.8,313.8 321.08,313.47 322.6,312.8C324.12,312.13 326.05,311.03 327.4,310.4C328.75,309.77 329.43,309.55 330.7,309C331.97,308.45 333.57,307.82 335,307.1C336.43,306.38 337.95,305.5 339.3,304.7C340.65,303.9 341.77,303.27 343.1,302.3C344.43,301.33 345.95,300.02 347.3,298.9C348.65,297.78 349.88,296.65 351.2,295.6C352.52,294.55 354.1,293.53 355.2,292.6C356.3,291.67 356.7,290.93 357.8,290C358.9,289.07 360.52,288.12 361.8,287C363.08,285.88 364.43,284.3 365.5,283.3C366.57,282.3 367.13,281.92 368.2,281C369.27,280.08 370.77,279.05 371.9,277.8C373.03,276.55 374.03,274.8 375,273.5C375.97,272.2 376.73,271.33 377.7,270C378.67,268.67 379.67,267 380.8,265.5C381.93,264 383.1,262.83 384.5,261C385.9,259.17 387.62,256.95 389.2,254.5C390.78,252.05 392.53,248.72 394,246.3C395.47,243.88 396.8,241.5 398,240C399.2,238.5 400.28,238.28 401.2,237.3C402.12,236.32 402.58,235.15 403.5,234.1C404.42,233.05 405.63,232.12 406.7,231C407.77,229.88 408.92,228.6 409.9,227.4C410.88,226.2 411.55,224.98 412.6,223.8C413.65,222.62 414.87,221.28 416.2,220.3C417.53,219.32 419.28,218.63 420.6,217.9C421.92,217.17 422.57,216.72 424.1,215.9C425.63,215.08 426.65,214.07 429.8,213C432.95,211.93 439.05,210.3 443,209.5C446.95,208.7 449.33,208.63 453.5,208.2C457.67,207.77 460.8,207.25 468,206.9C475.2,206.55 491.92,206.23 496.7,206.1" stroke="#00ff00" stroke-width="3.7" fill="none" stroke-linecap="round" stroke-dasharray="0 4.8"/>
<path d="M296.3,321.9C297.2,321.55 299.37,320.48 301.7,319.8C304.03,319.12 307.25,318.52 310.3,317.8C313.35,317.08 316.22,316.5 320,315.5C323.78,314.5 329.23,313.03 333,311.8C336.77,310.57 339.67,309.35 342.6,308.1C345.53,306.85 348.17,305.38 350.6,304.3C353.03,303.22 355.02,302.5 357.2,301.6C359.38,300.7 361.87,299.8 363.7,298.9C365.53,298 366.13,297.32 368.2,296.2C370.27,295.08 373.47,293.87 376.1,292.2C378.73,290.53 381.6,288.3 384,286.2C386.4,284.1 388.3,282.07 390.5,279.6C392.7,277.13 395.03,274.22 397.2,271.4C399.37,268.58 401.4,265.6 403.5,262.7C405.6,259.8 407.95,256.5 409.8,254C411.65,251.5 413.23,249.53 414.6,247.7C415.97,245.87 416.85,244.7 418,243C419.15,241.3 420.17,239.42 421.5,237.5C422.83,235.58 424.4,233.58 426,231.5C427.6,229.42 429.37,227.03 431.1,225C432.83,222.97 434.75,220.75 436.4,219.3C438.05,217.85 439.47,217.08 441,216.3C442.53,215.52 444.1,215.12 445.6,214.6C447.1,214.08 448.45,213.72 450,213.2C451.55,212.68 452.98,212.12 454.9,211.5C456.82,210.88 459.32,210.05 461.5,209.5C463.68,208.95 465.43,208.62 468,208.2C470.57,207.78 473.87,207.35 476.9,207C479.93,206.65 482.9,206.33 486.2,206.1C489.5,205.87 494.95,205.68 496.7,205.6" stroke="#000000" stroke-width="2.9" fill="none" stroke-dasharray="5.5 2"/>
<path d="M296.3,321.2C297.52,321.2 301.27,321.48 303.6,321.2C305.93,320.92 308.23,320.03 310.3,319.5C312.37,318.97 313.78,318.8 316,318C318.22,317.2 321.38,315.6 323.6,314.7C325.82,313.8 327.57,313.32 329.3,312.6C331.03,311.88 332.27,311.13 334,310.4C335.73,309.67 338.12,309.05 339.7,308.2C341.28,307.35 342.13,306.3 343.5,305.3C344.87,304.3 346.28,303.27 347.9,302.2C349.52,301.13 351.65,300 353.2,298.9C354.75,297.8 355.77,296.8 357.2,295.6C358.63,294.4 360.23,293.08 361.8,291.7C363.37,290.32 365.37,288.55 366.6,287.3C367.83,286.05 368.23,285.25 369.2,284.2C370.17,283.15 371.32,282.2 372.4,281C373.48,279.8 374.73,278.23 375.7,277C376.67,275.77 377.35,274.93 378.2,273.6C379.05,272.27 379.75,270.93 380.8,269C381.85,267.07 383.1,264.37 384.5,262C385.9,259.63 387.62,257.45 389.2,254.8C390.78,252.15 392.42,248.83 394,246.1C395.58,243.37 397.23,240.67 398.7,238.4C400.17,236.13 401.73,234.07 402.8,232.5C403.87,230.93 404.32,230.12 405.1,229C405.88,227.88 406.7,226.83 407.5,225.8C408.3,224.77 409.05,223.85 409.9,222.8C410.75,221.75 411.68,220.4 412.6,219.5C413.52,218.6 414.4,218.05 415.4,217.4C416.4,216.75 417.53,216.1 418.6,215.6C419.67,215.1 420.6,214.87 421.8,214.4C423,213.93 423.82,213.28 425.8,212.8C427.78,212.32 431.05,211.93 433.7,211.5C436.35,211.07 439.05,210.63 441.7,210.2C444.35,209.77 446.97,209.35 449.6,208.9C452.23,208.45 454.87,207.83 457.5,207.5C460.13,207.17 462.17,207.07 465.4,206.9C468.63,206.73 471.68,206.63 476.9,206.5C482.12,206.37 493.4,206.17 496.7,206.1" stroke="#0000ff" stroke-width="2.8" fill="none" stroke-linecap="round" stroke-dasharray="3.6 4.2 0 4.5 0 4.2"/>
</g>
<line x1="427" y1="289.4" x2="437.7" y2="289.4" stroke="#ff0000" stroke-width="2.7" stroke-linecap="round"/>
<circle cx="427.4" cy="301.3" r="1.7" fill="#00ff00"/>
<circle cx="432.35" cy="301.3" r="1.7" fill="#00ff00"/>
<circle cx="437.3" cy="301.3" r="1.7" fill="#00ff00"/>
<line x1="427" y1="313.1" x2="430.75" y2="313.1" stroke="#000" stroke-width="2.6" stroke-linecap="round"/>
<line x1="433.35" y1="313.1" x2="437.7" y2="313.1" stroke="#000" stroke-width="2.6" stroke-linecap="round"/>
<circle cx="428.3" cy="324.3" r="1.3" fill="#0000ff"/>
<line x1="431.4" y1="324.3" x2="437.7" y2="324.3" stroke="#0000ff" stroke-width="2.6" stroke-linecap="round"/>
<text transform="translate(452.4,292.8) scale(1,1.12)" font-size="8.9" font-weight="bold" text-anchor="start" fill="#000" >fas2U : A</text>
<text transform="translate(452.4,304.7) scale(1,1.12)" font-size="8.9" font-weight="bold" text-anchor="start" fill="#000" >fas2U : U</text>
<text transform="translate(452.4,316.5) scale(1,1.12)" font-size="8.9" font-weight="bold" text-anchor="start" fill="#000" >fas2U : G</text>
<text transform="translate(452.4,327.7) scale(1,1.12)" font-size="8.9" font-weight="bold" text-anchor="start" fill="#000" >fas2U : C</text>
<line x1="555" y1="316.5" x2="745" y2="316.5" stroke="#e0e0e0" stroke-width="1"/>
<text transform="translate(541,321.5) scale(1.08,1)" font-size="12.8" font-weight="bold" text-anchor="end" fill="#000" >30</text>
<line x1="555" y1="293.28" x2="745" y2="293.28" stroke="#e0e0e0" stroke-width="1"/>
<text transform="translate(541,298.28) scale(1.08,1)" font-size="12.8" font-weight="bold" text-anchor="end" fill="#000" >40</text>
<line x1="555" y1="270.06" x2="745" y2="270.06" stroke="#e0e0e0" stroke-width="1"/>
<text transform="translate(541,275.06) scale(1.08,1)" font-size="12.8" font-weight="bold" text-anchor="end" fill="#000" >50</text>
<line x1="555" y1="246.84" x2="745" y2="246.84" stroke="#e0e0e0" stroke-width="1"/>
<text transform="translate(541,251.84) scale(1.08,1)" font-size="12.8" font-weight="bold" text-anchor="end" fill="#000" >60</text>
<line x1="555" y1="223.62" x2="745" y2="223.62" stroke="#e0e0e0" stroke-width="1"/>
<text transform="translate(541,228.62) scale(1.08,1)" font-size="12.8" font-weight="bold" text-anchor="end" fill="#000" >70</text>
<text x="530.8" y="202.7" font-size="10.4" font-weight="bold" text-anchor="start" fill="#000" >F</text>
<text transform="translate(520.4,270) rotate(-90)" font-size="12.6" font-weight="bold" text-anchor="middle" fill="#000">Tm (&#8728;C)</text>
<polyline points="574.4,241.03 614,293.28 653.6,253.57 693,305.59 732.6,265.42" fill="none" stroke="#e8433a" stroke-width="1.8"/>
<polyline points="574.4,247.3 614,293.51 653.6,257.99 693,282.37 732.6,268.9" fill="none" stroke="#000" stroke-width="1.8"/>
<circle cx="574.4" cy="241.03" r="2.1" fill="#e8433a"/>
<circle cx="614" cy="293.28" r="2.1" fill="#e8433a"/>
<circle cx="653.6" cy="253.57" r="2.1" fill="#e8433a"/>
<circle cx="693" cy="305.59" r="2.1" fill="#e8433a"/>
<circle cx="732.6" cy="265.42" r="2.1" fill="#e8433a"/>
<circle cx="574.4" cy="247.3" r="2.1" fill="#000"/>
<circle cx="614" cy="293.51" r="2.1" fill="#000"/>
<circle cx="653.6" cy="257.99" r="2.1" fill="#000"/>
<circle cx="693" cy="282.37" r="2.1" fill="#000"/>
<circle cx="732.6" cy="268.9" r="2.1" fill="#000"/>
<line x1="593" y1="235.6" x2="609" y2="235.6" stroke="#e8433a" stroke-width="1.6"/>
<circle cx="601" cy="235.6" r="2.1" fill="#e8433a"/>
<text transform="translate(609.2,241.4) scale(1.06,1)" font-size="12.8" font-weight="bold" text-anchor="start" fill="#000" >xU:A</text>
<line x1="673.5" y1="235.6" x2="689.5" y2="235.6" stroke="#000" stroke-width="1.6"/>
<circle cx="681" cy="235.6" r="2.1" fill="#000"/>
<text transform="translate(689.6,241.4) scale(1.06,1)" font-size="12.8" font-weight="bold" text-anchor="start" fill="#000" >xU:G</text>
<text transform="translate(577,337.2) rotate(-45)" font-size="13.2" font-weight="bold" text-anchor="end" fill="#000">U</text>
<text transform="translate(616.6,337.2) rotate(-45)" font-size="13.2" font-weight="bold" text-anchor="end" fill="#000">mes2U</text>
<text transform="translate(656.2,337.2) rotate(-45)" font-size="13.2" font-weight="bold" text-anchor="end" fill="#000">dmas2U</text>
<text transform="translate(695.6,337.2) rotate(-45)" font-size="13.2" font-weight="bold" text-anchor="end" fill="#000">ges2U</text>
<text transform="translate(735.2,337.2) rotate(-45)" font-size="13.2" font-weight="bold" text-anchor="end" fill="#000">fas2U</text>
<circle cx="343.4" cy="359.4" r="0.6" fill="#555"/>
<line x1="505.5" y1="293" x2="505.5" y2="297" stroke="#e6e6e6" stroke-width="1"/>
</svg></body></html>
